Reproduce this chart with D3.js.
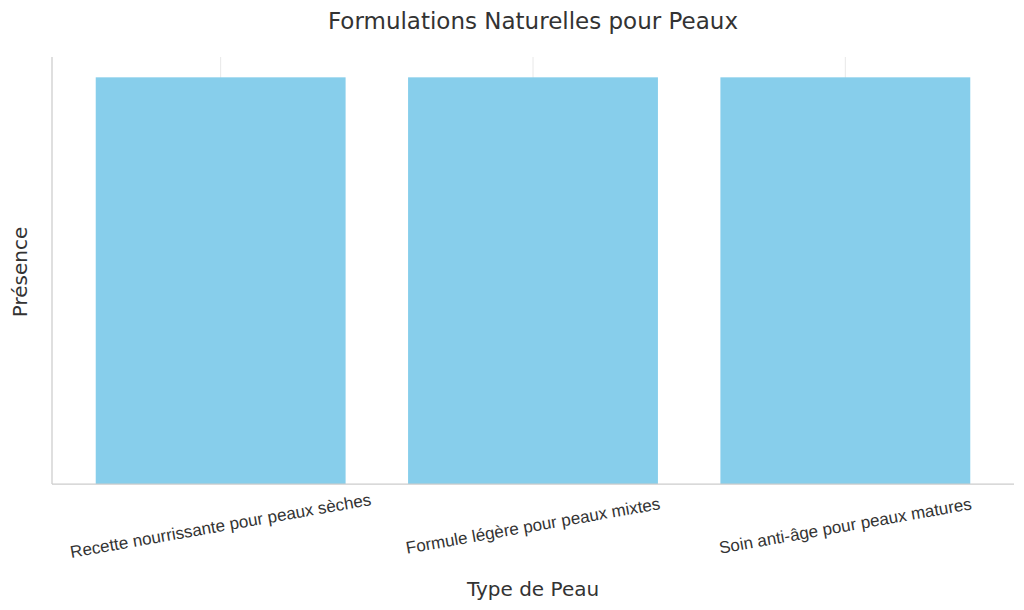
<!DOCTYPE html>
<html>
<head>
<meta charset="utf-8">
<script src="https://cdn.jsdelivr.net/npm/d3@7"></script>
<style>
  body { margin: 0; background: #fff; }
  svg { display: block; }
</style>
</head>
<body>
<div id="chart"></div>
<script>
// chart data
const categories = [
    "Recette nourrissante pour peaux sèches",
    "Formule légère pour peaux mixtes",
    "Soin anti-âge pour peaux matures"
];
const presence = [1, 1, 1];

const W = 1024, H = 610;
const margin = { top: 57, right: 10, bottom: 126, left: 52 };

const svg = d3.select("#chart")
    .append("svg")
    .attr("width", W)
    .attr("height", H);

// index scale like matplotlib (bars of width 0.8, 5% margins)
const x = d3.scaleLinear()
    .domain([-0.54, categories.length - 1 + 0.54])
    .range([margin.left, 1014]);

const y = d3.scaleLinear()
    .domain([0, 1.05])
    .range([H - margin.bottom, margin.top]);

const barW = 0.8;

// vertical grid lines at category centers
svg.append("g")
    .selectAll("line")
    .data(categories)
    .enter()
    .append("line")
    .attr("x1", (d, i) => x(i))
    .attr("x2", (d, i) => x(i))
    .attr("y1", y(1.05))
    .attr("y2", y(0))
    .attr("stroke", "#e8e8e8")
    .attr("stroke-width", 1);

// bars
svg.append("g")
    .selectAll("rect")
    .data(presence)
    .enter()
    .append("rect")
    .attr("x", (d, i) => x(i - barW / 2))
    .attr("width", x(barW) - x(0))
    .attr("y", d => y(d))
    .attr("height", d => y(0) - y(d))
    .attr("fill", "#87ceeb");

// spines
svg.append("line")
    .attr("x1", x.range()[0]).attr("x2", x.range()[0])
    .attr("y1", y(1.05)).attr("y2", y(0))
    .attr("stroke", "#cccccc").attr("stroke-width", 1.25);
svg.append("line")
    .attr("x1", x.range()[0]).attr("x2", x.range()[1])
    .attr("y1", y(0)).attr("y2", y(0))
    .attr("stroke", "#cccccc").attr("stroke-width", 1.25);

// x tick labels, rotated a little
svg.append("g")
    .selectAll("text")
    .data(categories)
    .enter()
    .append("text")
    .attr("transform", (d, i) => `translate(${x(i)},526) rotate(-10)`)
    .attr("text-anchor", "middle")
    .attr("dominant-baseline", "central")
    .style("font-family", "Liberation Sans, Arial, sans-serif")
    .style("font-size", "17px")
    .style("fill", "#333333")
    .text(d => d);

// title
svg.append("text")
    .attr("x", 533)
    .attr("y", 29)
    .attr("text-anchor", "middle")
    .style("font-family", "DejaVu Sans, sans-serif")
    .style("font-size", "23px")
    .style("fill", "#333333")
    .text("Formulations Naturelles pour Peaux");

// axis titles
svg.append("text")
    .attr("x", 533)
    .attr("y", 596)
    .attr("text-anchor", "middle")
    .style("font-family", "DejaVu Sans, sans-serif")
    .style("font-size", "20px")
    .style("fill", "#333333")
    .text("Type de Peau");

svg.append("text")
    .attr("transform", "translate(27,272) rotate(-90)")
    .attr("text-anchor", "middle")
    .style("font-family", "DejaVu Sans, sans-serif")
    .style("font-size", "20px")
    .style("fill", "#333333")
    .text("Présence");
</script>
</body>
</html>
